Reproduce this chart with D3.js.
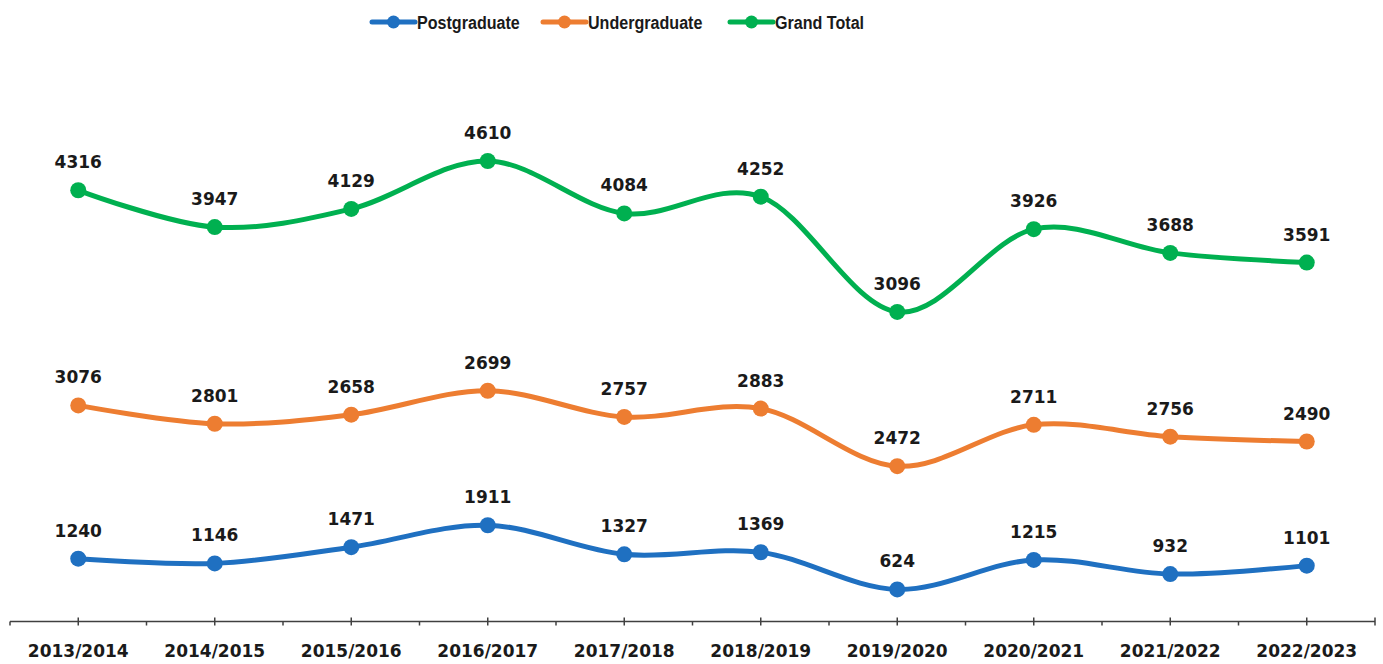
<!DOCTYPE html>
<html><head><meta charset="utf-8">
<script src="https://cdn.jsdelivr.net/npm/d3@7"></script>
<style>
html,body{margin:0;padding:0;background:#fff;}
svg{display:block;}
</style></head>
<body>
<svg id="chart" width="1383" height="664"></svg>
<script>
const categories = ["2013/2014","2014/2015","2015/2016","2016/2017","2017/2018","2018/2019","2019/2020","2020/2021","2021/2022","2022/2023"];
const postgraduate = [1240,1146,1471,1911,1327,1369,624,1215,932,1101];
const undergraduate = [3076,2801,2658,2699,2757,2883,2472,2711,2756,2490];
const grandTotal = [4316,3947,4129,4610,4084,4252,3096,3926,3688,3591];
const seriesNames = ["Postgraduate","Undergraduate","Grand Total"];
const seriesColors = ["#1F70C1","#ED7D31","#00B050"];

const svg = d3.select("#chart");
const x = d3.scaleBand().domain(categories).range([10, 1375]);
const y = d3.scaleLinear().domain([0, 10000]).range([620.5, 122.1]);

// stacked line chart (as in the source)
const raw = [postgraduate, undergraduate, grandTotal];
const stacked = [];
let cum = categories.map(() => 0);
raw.forEach(arr => {
  cum = cum.map((c, i) => c + arr[i]);
  stacked.push(cum.slice());
});

const cx = c => x(c) + x.bandwidth() / 2;
const font = "'DejaVu Sans', sans-serif";

// axis
const axisY = 621.5;
svg.append("line").attr("x1", 10).attr("x2", 1375).attr("y1", axisY).attr("y2", axisY)
  .attr("stroke", "#404040").attr("stroke-width", 1.5);
categories.forEach(c => {
  svg.append("line").attr("x1", cx(c)).attr("x2", cx(c)).attr("y1", axisY - 4).attr("y2", axisY + 4)
    .attr("stroke", "#404040").attr("stroke-width", 1.5);
});
const bounds = categories.map(c => x(c)).concat([x(categories[categories.length - 1]) + x.bandwidth()]);
bounds.forEach((b, i) => {
  const last = i === bounds.length - 1;
  svg.append("line").attr("x1", b).attr("x2", b).attr("y1", last ? axisY - 4 : axisY).attr("y2", axisY + 4)
    .attr("stroke", "#404040").attr("stroke-width", 1.5);
});
svg.append("g").selectAll("text").data(categories).join("text")
  .attr("x", d => cx(d)).attr("y", 657)
  .attr("text-anchor", "middle")
  .attr("font-family", font).attr("font-weight", "bold").attr("font-size", 17)
  .attr("fill", "#1a1a1a")
  .text(d => d);

const line = d3.line().curve(d3.curveCardinal.tension(0))
  .x(d => cx(d.c)).y(d => y(d.v));

raw.forEach((arr, s) => {
  const pts = categories.map((c, i) => ({c, v: stacked[s][i], label: arr[i]}));
  const g = svg.append("g");
  g.append("path").datum(pts).attr("d", line)
    .attr("fill", "none").attr("stroke", seriesColors[s]).attr("stroke-width", 5)
    .attr("stroke-linecap", "round");
  g.selectAll("circle").data(pts).join("circle")
    .attr("cx", d => cx(d.c)).attr("cy", d => y(d.v)).attr("r", 8)
    .attr("fill", seriesColors[s]);
  g.selectAll("text").data(pts).join("text")
    .attr("x", d => cx(d.c)).attr("y", d => y(d.v) - 22)
    .attr("text-anchor", "middle")
    .attr("font-family", font).attr("font-weight", "bold").attr("font-size", 17)
    .attr("fill", "#1a1a1a")
    .text(d => d.label);
});

// legend
const legendX = [372, 543, 730];
seriesNames.forEach((n, i) => {
  const g = svg.append("g").attr("transform", `translate(${legendX[i]},22)`);
  g.append("line").attr("x1", 0).attr("x2", 43).attr("y1", 0).attr("y2", 0)
    .attr("stroke", seriesColors[i]).attr("stroke-width", 5).attr("stroke-linecap", "round");
  g.append("circle").attr("cx", 21.5).attr("cy", 0).attr("r", 6.5).attr("fill", seriesColors[i]);
  g.append("text").attr("transform", "translate(45,7) scale(0.87,1)")
    .attr("font-family", "'Liberation Sans', Arial, sans-serif").attr("font-weight", "bold").attr("font-size", 18.5)
    .attr("fill", "#1a1a1a").text(n);
});
</script>
</body></html>
